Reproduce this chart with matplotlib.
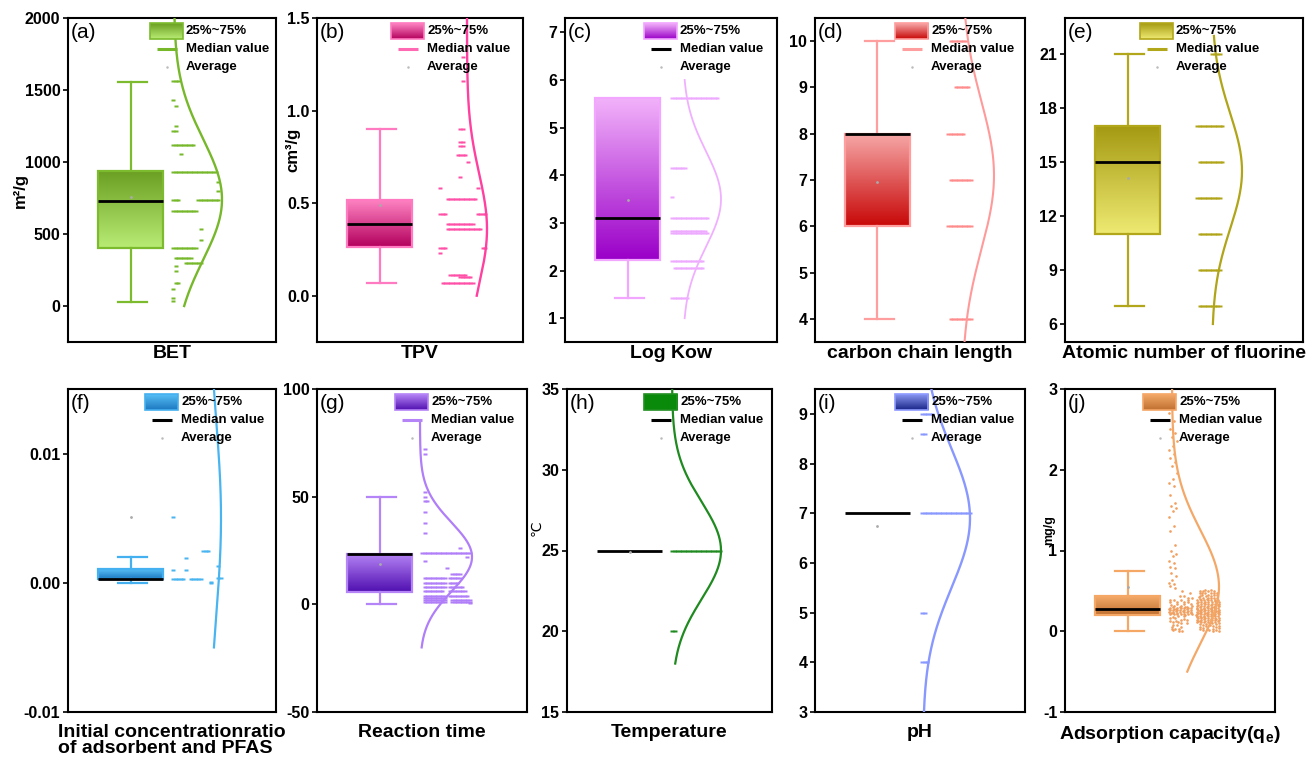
import numpy as np
import matplotlib
matplotlib.use('Agg')
import matplotlib.pyplot as plt
from matplotlib.colors import LinearSegmentedColormap
from matplotlib.patches import Rectangle

plt.rcParams['font.family'] = ['Liberation Sans', 'DejaVu Sans']
plt.rcParams['mathtext.fontset'] = 'custom'
plt.rcParams['mathtext.rm'] = 'Liberation Sans'
plt.rcParams['mathtext.bf'] = 'Liberation Sans:bold'
plt.rcParams['axes.linewidth'] = 1.5

# ---------------- data ----------------
panel_tags = ['(a)', '(b)', '(c)', '(d)', '(e)', '(f)', '(g)', '(h)', '(i)', '(j)']
x_labels = ['BET', 'TPV', 'Log Kow', 'carbon chain length', 'Atomic number of fluorine',
            'Initial concentrationratio\nof adsorbent and PFAS', 'Reaction time', 'Temperature',
            'pH', r'Adsorption capacity(q$_\mathbf{e}$)']
y_units = ['m²/g', 'cm³/g', '', '', '', '', '', '℃', '', 'mg/g']

ylims = [(-250, 2000), (-0.25, 1.5), (0.5, 7.3), (3.5, 10.5), (5, 23),
         (-0.01, 0.015), (-50, 100), (15, 35), (3, 9.5), (-1, 3)]
yticks = [[0, 500, 1000, 1500, 2000], [0.0, 0.5, 1.0, 1.5], [1, 2, 3, 4, 5, 6, 7],
          [4, 5, 6, 7, 8, 9, 10], [6, 9, 12, 15, 18, 21], [-0.01, 0.00, 0.01],
          [-50, 0, 50, 100], [15, 20, 25, 30, 35], [3, 4, 5, 6, 7, 8, 9], [-1, 0, 1, 2, 3]]
ytick_labels = [['0', '500', '1000', '1500', '2000'], ['0.0', '0.5', '1.0', '1.5'],
                ['1', '2', '3', '4', '5', '6', '7'], ['4', '5', '6', '7', '8', '9', '10'],
                ['6', '9', '12', '15', '18', '21'], ['-0.01', '0.00', '0.01'],
                ['-50', '0', '50', '100'], ['15', '20', '25', '30', '35'],
                ['3', '4', '5', '6', '7', '8', '9'], ['-1', '0', '1', '2', '3']]

q1 = [400, 0.263, 2.22, 6, 11, 0.00026, 5.9, 25, 7, 0.206]
median = [730, 0.389, 3.10, 8, 15, 0.00026, 23.6, 25, 7, 0.276]
q3 = [935, 0.519, 5.62, 8, 17, 0.00103, 23.6, 25, 7, 0.433]
whisker_lo = [30, 0.068, 1.42, 4, 7, 0.0, 0, 25, 7, 0.0]
whisker_hi = [1555, 0.90, 5.62, 10, 21, 0.002, 50, 25, 7, 0.74]
mean_val = [760, 0.49, 3.48, 6.95, 14.1, 0.0051, 18.7, 24.9, 6.75, 0.55]

# normal-curve parameters (mean, sd) and drawn y-range
curve_mu = [740, 0.36, 3.5, 7.1, 14.5, 0.005, 22, 25, 6.9, 0.55]
curve_sd = [420, 0.30, 1.0, 1.6, 3.2, 0.0075, 16, 3, 1.4, 0.7]
curve_range = [(0, 2000), (0, 1.5), (1, 6), (3.5, 10.5), (6, 22),
               (-0.005, 0.016), (-20, 85), (18, 35.5), (3, 9.6), (-0.5, 3.1)]

# data points: (value, jitter start index, number of points)
pts_a = [(1560, 0, 3), (1433, 0, 1), (1387, 1, 1), (1249, 1, 1), (1214, 0, 2), (1121, 0, 9),
         (1059, 3, 1), (929, 0, 18), (860, 18, 1), (800, 18, 1), (735, 0, 3), (735, 10, 9),
         (659, 0, 10), (536, 11, 1), (458, 11, 1), (405, 0, 10), (335, 1, 7), (296, 5, 7),
         (277, 1, 1), (240, 1, 1), (162, 1, 2), (116, 0, 1), (58, 0, 1), (35, 0, 1)]
pts_b = [(1.29, 9, 1), (1.16, 9, 1), (0.90, 8, 2), (0.83, 8, 2), (0.81, 8, 2), (0.76, 7, 4),
         (0.72, 11, 1), (0.64, 8, 1), (0.58, 0, 1), (0.58, 15, 1), (0.52, 3, 12), (0.44, 0, 3),
         (0.44, 15, 4), (0.39, 3, 11), (0.36, 3, 14), (0.26, 0, 3), (0.26, 17, 2), (0.23, 0, 1),
         (0.11, 4, 7), (0.10, 8, 5), (0.07, 1, 13)]
pts_c = [(5.62, 0, 19), (4.15, 0, 6), (3.55, 0, 1), (3.10, 0, 15), (2.82, 0, 14), (2.78, 0, 15),
         (2.20, 0, 13), (2.05, 1, 12), (1.42, 0, 7)]
pts_d = [(10, 1, 7), (9, 3, 6), (8, 0, 7), (7, 1, 9), (6, 0, 10), (4, 1, 9)]
pts_e = [(21, 6, 4), (17, 0, 11), (15, 1, 10), (13, 0, 10), (11, 1, 9), (9, 1, 9), (7, 1, 9)]
pts_f = [(0.0051, 0, 1), (0.0025, 12, 3), (0.0019, 5, 1), (0.0013, 18, 1), (0.0010, 0, 1),
         (0.0010, 5, 1), (0.0004, 18, 2), (0.0003, 0, 5), (0.0003, 7, 5), (0.0001, 15, 1),
         (0.0, 15, 1)]
pts_g = [(72, 1, 1), (70, 1, 1), (52, 1, 1), (50, 1, 1), (48, 1, 2), (43, 1, 1), (38, 1, 1),
         (33, 1, 1), (24, 0, 20), (26, 15, 1), (22, 18, 1), (20, 1, 1), (17, 10, 1), (14, 12, 4),
         (12, 1, 9), (12, 11, 5), (10, 1, 9), (10, 11, 4), (8, 1, 9), (8, 11, 6), (6, 1, 8),
         (6, 11, 7), (4, 1, 9), (4, 11, 8), (3, 1, 9), (2, 1, 9), (2, 12, 8), (1, 1, 9),
         (1, 12, 8), (0.5, 19, 1)]
pts_h = [(25, 0, 20), (20, 0, 2)]
pts_i = [(9, 0, 5), (8.6, 0, 2), (7, 0, 20), (5, 0, 2), (4, 0, 3)]
pts_j_tail = [2.9, 2.8, 2.7, 2.6, 2.5, 2.45, 2.4, 2.35, 2.3, 2.25, 2.2, 2.15, 2.1, 2.05, 1.96,
              1.88, 1.84, 1.8, 1.69, 1.59, 1.55, 1.53, 1.49, 1.42, 1.30, 1.24, 1.07, 0.99, 0.96,
              0.93, 0.87, 0.84, 0.80, 0.78, 0.72, 0.68, 0.64, 0.60, 0.58, 0.56, 0.54]
# dense cloud of (j): (value low, value high, count, column low, column high)
pts_j_cloud = [(0.00, 0.10, 10, 1, 6), (0.10, 0.20, 14, 0, 8), (0.20, 0.30, 40, 0, 10),
               (0.30, 0.40, 16, 0, 10), (0.40, 0.52, 6, 4, 10), (0.00, 0.10, 20, 12, 21),
               (0.10, 0.20, 40, 11, 21), (0.20, 0.30, 45, 11, 21), (0.30, 0.40, 35, 11, 21),
               (0.40, 0.52, 25, 12, 20)]
point_rows = [pts_a, pts_b, pts_c, pts_d, pts_e, pts_f, pts_g, pts_h, pts_i, []]

# ---------------- styles ----------------
edge_col = ['#7cbb2e', '#ff7ac0', '#f2a6ff', '#ff9e9e', '#b2a61a', '#44b0f0', '#b584f7',
            '#239023', '#8d9bff', '#f5a766']
curve_col = ['#76b82a', '#ff40a0', '#f0b0ff', '#ff9a9a', '#b0a418', '#48b4f0', '#b07ef8',
             '#1f8a1f', '#8898ff', '#f4a868']
point_col = ['#76b82a', '#ff50a8', '#eeaaff', '#ff8c8c', '#b0a418', '#48b4f0', '#b07ef8',
             '#1f8a1f', '#8898ff', '#f0a060']
box_top = ['#6a9e22', '#ff85c4', '#f2b2fa', '#f7a8a8', '#a59a12', '#58bff6', '#b684f6',
           '#0a8a0a', '#8a98f2', '#f4aa6a']
box_bot = ['#b8ec74', '#b3005c', '#9a00c8', '#c80808', '#eeea72', '#1c78c0', '#5010b0',
           '#0a8a0a', '#1a2688', '#bf7030']
leg_med_col = ['#76b82a', '#ff69b4', 'black', '#ff9e9e', '#b2a61a', 'black', '#b584f7',
               'black', 'black', 'black']
dash_h_px = [3.0, 3.0, 1.6, 2.0, 2.6, 2.6, 2.2, 1.8, 2.0, 2.4]
curve_lw = [1.7, 1.7, 1.3, 1.5, 1.6, 1.6, 1.6, 1.6, 1.7, 1.6]

W, H = 1306, 771
axes_px = [(68, 276, 18, 342), (317, 523, 18, 342), (565, 777, 18, 342), (815, 1025, 18, 342),
           (1065, 1303, 18, 342), (68, 276, 389, 712), (317, 527, 389, 712),
           (567, 772, 389, 712), (815, 1025, 389, 712), (1065, 1275, 389, 712)]
pts_x0_px = [105, 123, 107, 133, 132, 105, 105, 105, 107, 103]
curve_base_px = [106, 150, 118, 147, 147, 141, 103, 105, 108, 107]
curve_amp_px = [48, 20, 38, 32, 30, 12, 52, 49, 47, 47]
legend_left_px = [82, 74, 79, 80, 75, 77, 78, 77, 80, 78]
unit_pos_px = [(20, 190), (293, 150), None, None, None, None, None, (536, 528), None, (1049, 530)]
unit_size = [12, 12, 0, 0, 0, 0, 0, 10, 0, 9]
DX = 2.5
DASH_W_PX = 3.8

fig = plt.figure(figsize=(W / 100, H / 100), dpi=100)


def grad_fill(ax, x0, x1, y0, y1, c_top, c_bot, z):
    cmap = LinearSegmentedColormap.from_list('g', [c_bot, c_top])
    g = np.linspace(0, 1, 128).reshape(-1, 1)
    ax.imshow(g, extent=[x0, x1, y0, y1], origin='lower', cmap=cmap, aspect='auto',
              zorder=z, interpolation='bilinear')


for i in range(10):
    l, r, t, b = axes_px[i]
    wpx, hpx = r - l, b - t
    ax = fig.add_axes([l / W, 1 - b / H, wpx / W, hpx / H])
    ylo, yhi = ylims[i]

    def fx(p):
        return p / wpx

    def fy(p):
        return yhi - p / hpx * (yhi - ylo)

    edge = edge_col[i]
    bl, br = fx(30), fx(95)
    cl, cr = fx(50), fx(79)
    cx = fx(62.5)

    # box
    if q3[i] > q1[i]:
        grad_fill(ax, bl, br, q1[i], q3[i], box_top[i], box_bot[i], 2)
        ax.add_patch(Rectangle((bl, q1[i]), br - bl, q3[i] - q1[i], fill=False, ec=edge,
                               lw=1.6, zorder=3))
    if whisker_hi[i] > q3[i]:
        ax.plot([cx, cx], [q3[i], whisker_hi[i]], color=edge, lw=1.6, zorder=2)
        ax.plot([cl, cr], [whisker_hi[i]] * 2, color=edge, lw=1.6, zorder=2)
    if whisker_lo[i] < q1[i]:
        ax.plot([cx, cx], [whisker_lo[i], q1[i]], color=edge, lw=1.6, zorder=2)
        ax.plot([cl, cr], [whisker_lo[i]] * 2, color=edge, lw=1.6, zorder=2)
    ax.plot([bl, br], [median[i]] * 2, color='black', lw=2.0, zorder=4, solid_capstyle='butt')
    ax.plot([cx], [mean_val[i]], marker='o', ms=1.0, color='#aaaaaa', zorder=5)

    # data points
    xs, ys = [], []
    for val, st, n in point_rows[i]:
        for k in range(n):
            xs.append(fx(pts_x0_px[i] + (st + k) * DX))
            ys.append(val)
    if i == 9:
        phi1, phi2 = 0.7548776662, 0.5698402910
        for k, val in enumerate(pts_j_tail):
            xs.append(fx(pts_x0_px[i] + ((k * phi2) % 1.0) * 3.5 * DX))
            ys.append(val)
        for y_lo_, y_hi_, n, c_lo, c_hi in pts_j_cloud:
            for k in range(n):
                ys.append(y_lo_ + ((k * phi1 + 0.3) % 1.0) * (y_hi_ - y_lo_))
                xs.append(fx(pts_x0_px[i] + (c_lo + ((k * phi2 + 0.1) % 1.0) * (c_hi - c_lo)) * DX))
        ax.plot(xs, ys, ls='none', marker='o', ms=1.9, mec='none', mfc=point_col[i], zorder=3)
    else:
        a = dash_h_px[i] / DASH_W_PX
        verts = [(-1, -a), (1, -a), (1, a), (-1, a), (-1, -a)]
        ax.plot(xs, ys, ls='none', marker=verts, ms=DASH_W_PX * 0.72, mec='none',
                mfc=point_col[i], zorder=3)

    # normal curve
    yy = np.linspace(curve_range[i][0], curve_range[i][1], 400)
    xx = fx(curve_base_px[i]) + fx(curve_amp_px[i]) * np.exp(-0.5 * ((yy - curve_mu[i]) / curve_sd[i]) ** 2)
    ax.plot(xx, yy, color=curve_col[i], lw=curve_lw[i], zorder=3)

    # legend
    L = legend_left_px[i]
    grad_fill(ax, fx(L), fx(L + 33), fy(21), fy(5), box_top[i], box_bot[i], 6)
    ax.add_patch(Rectangle((fx(L), fy(21)), fx(33), fy(5) - fy(21), fill=False, ec=edge,
                           lw=1.2, zorder=7))
    for txt, off in [('25%~75%', 13), ('Median value', 31), ('Average', 49)]:
        ax.text(fx(L + 36), fy(off), txt, va='center', ha='left', fontsize=9.5,
                fontweight='bold', zorder=8)
    ax.plot([fx(L + 7), fx(L + 27)], [fy(31)] * 2, color=leg_med_col[i], lw=2.2, zorder=8,
            solid_capstyle='butt')
    ax.plot([fx(L + 17)], [fy(49)], marker='o', ms=0.8, color='#bbbbbb', zorder=8)

    # panel tag
    ax.text(fx(3), fy(5), panel_tags[i], va='top', ha='left', fontsize=15, zorder=9)

    ax.set_xlim(0, 1)
    ax.set_ylim(ylo, yhi)
    ax.set_xticks([])
    ax.set_yticks(yticks[i], ytick_labels[i], fontsize=11.5, fontweight='bold')
    ax.tick_params(axis='y', direction='out', length=3.5, width=1.2, pad=2)

    # x label
    ytxt = 345 if i < 5 else 724
    fig.text((l + r) / 2 / W, 1 - ytxt / H, x_labels[i], ha='center', va='top', fontsize=14,
             fontweight='bold', multialignment='left', linespacing=0.95)
    if unit_pos_px[i] is not None:
        ux, uy = unit_pos_px[i]
        fig.text(ux / W, 1 - uy / H, y_units[i], ha='center', va='center', rotation=90,
                 fontsize=unit_size[i], fontweight='bold' if i != 7 else 'normal')

fig.savefig('out.png', dpi=100)
